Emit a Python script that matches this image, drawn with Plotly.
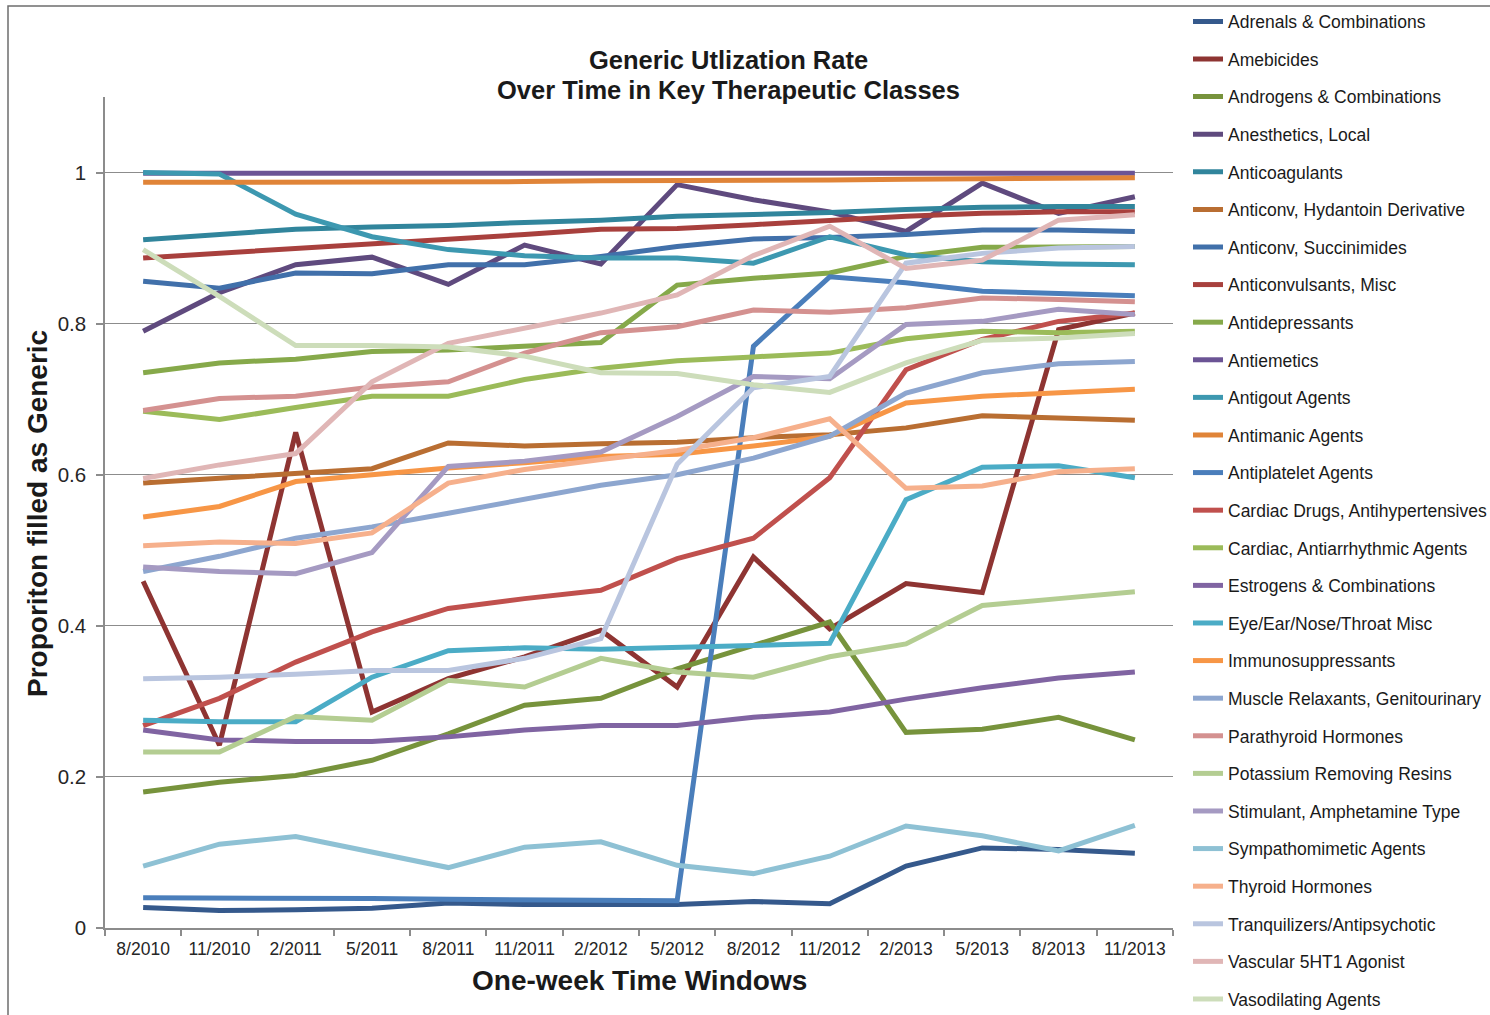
import plotly.graph_objects as go

# ---------------- data ----------------
dates = ["8/2010", "11/2010", "2/2011", "5/2011", "8/2011", "11/2011", "2/2012",
         "5/2012", "8/2012", "11/2012", "2/2013", "5/2013", "8/2013", "11/2013"]

adrenals = [0.027, 0.023, 0.024, 0.026, 0.033, 0.031, 0.031, 0.031, 0.035, 0.032, 0.082, 0.106, 0.104, 0.099]
amebicides = [0.459, 0.242, 0.656, 0.286, 0.330, 0.359, 0.394, 0.319, 0.491, 0.396, 0.456, 0.444, 0.792, 0.814]
androgens = [0.180, 0.193, 0.202, 0.222, 0.257, 0.295, 0.304, 0.343, 0.374, 0.405, 0.259, 0.263, 0.279, 0.249]
anesthetics = [0.790, 0.841, 0.878, 0.888, 0.852, 0.904, 0.879, 0.984, 0.964, 0.948, 0.922, 0.986, 0.946, 0.968]
anticoagulants = [0.911, 0.918, 0.925, 0.928, 0.930, 0.934, 0.937, 0.942, 0.944, 0.947, 0.951, 0.954, 0.955, 0.955]
hydantoin = [0.589, 0.595, 0.602, 0.608, 0.642, 0.638, 0.641, 0.643, 0.649, 0.653, 0.662, 0.678, 0.675, 0.672]
succinimides = [0.856, 0.847, 0.867, 0.866, 0.878, 0.878, 0.889, 0.902, 0.912, 0.914, 0.918, 0.924, 0.924, 0.922]
anticonv_misc = [0.887, 0.893, 0.899, 0.905, 0.912, 0.918, 0.925, 0.926, 0.931, 0.937, 0.942, 0.946, 0.948, 0.948]
antidepressants = [0.735, 0.748, 0.753, 0.763, 0.765, 0.770, 0.775, 0.851, 0.860, 0.867, 0.889, 0.901, 0.902, 0.902]
antiemetics = [0.999, 0.999, 0.999, 0.999, 0.999, 0.999, 0.999, 0.999, 0.999, 0.999, 0.999, 0.999, 0.999, 0.999]
antigout = [1.000, 0.998, 0.945, 0.915, 0.898, 0.890, 0.887, 0.887, 0.880, 0.915, 0.891, 0.882, 0.879, 0.878]
antimanic = [0.987, 0.987, 0.988, 0.988, 0.988, 0.988, 0.989, 0.989, 0.990, 0.990, 0.991, 0.992, 0.993, 0.993]
antiplatelet = [0.040, 0.040, 0.039, 0.039, 0.038, 0.037, 0.036, 0.036, 0.770, 0.862, 0.854, 0.843, 0.840, 0.837]
cardiac_drugs = [0.268, 0.304, 0.352, 0.392, 0.423, 0.436, 0.447, 0.489, 0.516, 0.596, 0.739, 0.779, 0.803, 0.814]
antiarrhythmic = [0.684, 0.673, 0.689, 0.704, 0.704, 0.726, 0.741, 0.751, 0.756, 0.761, 0.780, 0.790, 0.788, 0.790]
estrogens = [0.262, 0.249, 0.247, 0.247, 0.253, 0.262, 0.268, 0.268, 0.279, 0.286, 0.303, 0.318, 0.331, 0.339]
eye_ear = [0.275, 0.273, 0.273, 0.332, 0.367, 0.371, 0.369, 0.371, 0.374, 0.377, 0.567, 0.610, 0.612, 0.596]
immuno = [0.544, 0.558, 0.591, 0.600, 0.609, 0.616, 0.624, 0.627, 0.638, 0.651, 0.695, 0.704, 0.709, 0.713]
muscle = [0.472, 0.492, 0.516, 0.531, 0.549, 0.567, 0.586, 0.600, 0.622, 0.651, 0.708, 0.735, 0.747, 0.750]
parathyroid = [0.685, 0.701, 0.704, 0.716, 0.723, 0.761, 0.788, 0.796, 0.818, 0.815, 0.821, 0.834, 0.832, 0.829]
potassium = [0.233, 0.233, 0.280, 0.275, 0.328, 0.319, 0.357, 0.339, 0.332, 0.359, 0.376, 0.427, 0.436, 0.445]
stimulant = [0.478, 0.472, 0.469, 0.497, 0.611, 0.618, 0.630, 0.677, 0.730, 0.727, 0.799, 0.803, 0.819, 0.812]
sympathomimetic = [0.082, 0.111, 0.121, 0.100, 0.080, 0.107, 0.114, 0.083, 0.072, 0.095, 0.135, 0.122, 0.102, 0.136]
thyroid = [0.506, 0.511, 0.509, 0.523, 0.589, 0.607, 0.620, 0.632, 0.649, 0.674, 0.582, 0.585, 0.604, 0.608]
tranquilizers = [0.330, 0.332, 0.336, 0.341, 0.341, 0.357, 0.383, 0.614, 0.715, 0.730, 0.880, 0.893, 0.900, 0.902]
vascular = [0.595, 0.613, 0.628, 0.723, 0.774, 0.794, 0.814, 0.838, 0.890, 0.929, 0.873, 0.884, 0.937, 0.944]
vasodilating = [0.898, 0.836, 0.771, 0.771, 0.769, 0.757, 0.735, 0.734, 0.719, 0.709, 0.748, 0.778, 0.781, 0.787]

series_names = [
    "Adrenals & Combinations", "Amebicides", "Androgens & Combinations", "Anesthetics, Local",
    "Anticoagulants", "Anticonv, Hydantoin Derivative", "Anticonv, Succinimides",
    "Anticonvulsants, Misc", "Antidepressants", "Antiemetics", "Antigout Agents",
    "Antimanic Agents", "Antiplatelet Agents", "Cardiac Drugs, Antihypertensives",
    "Cardiac, Antiarrhythmic Agents", "Estrogens & Combinations", "Eye/Ear/Nose/Throat Misc",
    "Immunosuppressants", "Muscle Relaxants, Genitourinary", "Parathyroid Hormones",
    "Potassium Removing Resins", "Stimulant, Amphetamine Type", "Sympathomimetic Agents",
    "Thyroid Hormones", "Tranquilizers/Antipsychotic", "Vascular 5HT1 Agonist",
    "Vasodilating Agents",
]
series_values = [
    adrenals, amebicides, androgens, anesthetics, anticoagulants, hydantoin, succinimides,
    anticonv_misc, antidepressants, antiemetics, antigout, antimanic, antiplatelet,
    cardiac_drugs, antiarrhythmic, estrogens, eye_ear, immuno, muscle, parathyroid,
    potassium, stimulant, sympathomimetic, thyroid, tranquilizers, vascular, vasodilating,
]
y_ticks = [0, 0.2, 0.4, 0.6, 0.8, 1]
y_tick_labels = ["0", "0.2", "0.4", "0.6", "0.8", "1"]
title_lines = ["Generic Utlization Rate", "Over Time in Key Therapeutic Classes"]
x_title = "One-week Time Windows"
y_title = "Proporiton filled as Generic"

# ---------------- style ----------------
colors = [
    "#35598C", "#8E3432", "#77933C", "#5F4A7E", "#31859C", "#B96E32", "#4170AA",
    "#A8403D", "#86A94A", "#6B5495", "#3D98B0", "#E08438", "#4A7EBB", "#C0504D",
    "#9BBB59", "#8064A2", "#4BACC6", "#F79646", "#8DA6CF", "#D49190", "#B4CD92",
    "#A59AC2", "#8EC1D4", "#F6B08C", "#B9C5DF", "#E0B6B6", "#CDDDBA",
]
FONT = "Liberation Sans, Arial, sans-serif"
GRID = "#8C8C8C"
TXT = "#1A1A1A"

W, H = 1490, 1015
L, R, T, B = 105, 317, 97, 87
pw, ph = W - L - R, H - T - B


def px_x(p):
    return (p - L) / pw


def px_y(p):
    return (H - B - p) / ph


fig = go.Figure()
for i, (name, vals) in enumerate(zip(series_names, series_values)):
    fig.add_trace(go.Scatter(
        x=dates, y=vals, name=name, mode="lines",
        line=dict(color=colors[i], width=5),
        legendgroup="g%d" % i,
    ))

annotations = [
    dict(text="<b>%s</b>" % title_lines[0], xref="paper", yref="paper",
         x=px_x(728), y=px_y(60), xanchor="center", yanchor="middle", showarrow=False,
         font=dict(family=FONT, size=25.5, color=TXT)),
    dict(text="<b>%s</b>" % title_lines[1], xref="paper", yref="paper",
         x=px_x(728), y=px_y(90), xanchor="center", yanchor="middle", showarrow=False,
         font=dict(family=FONT, size=25.5, color=TXT)),
    dict(text="<b>%s</b>" % x_title, xref="paper", yref="paper",
         x=px_x(639), y=px_y(980), xanchor="center", yanchor="middle", showarrow=False,
         font=dict(family=FONT, size=28, color=TXT)),
    dict(text="<b>%s</b>" % y_title, xref="paper", yref="paper",
         x=px_x(37), y=px_y(514), textangle=-90,
         xanchor="center", yanchor="middle", showarrow=False,
         font=dict(family=FONT, size=28, color=TXT)),
]

fig.update_layout(
    width=W, height=H, autosize=False,
    margin=dict(l=L, r=R, t=T, b=B, pad=0, autoexpand=False),
    paper_bgcolor="white", plot_bgcolor="white",
    font=dict(family=FONT, color="#262626"),
    showlegend=True,
    legend=dict(
        x=px_x(1188), y=px_y(3.5), xanchor="left", yanchor="top",
        font=dict(family=FONT, size=17.5, color=TXT),
        tracegroupgap=11.85, bgcolor="rgba(0,0,0,0)", borderwidth=0,
        itemwidth=30, maxheight=1200,
    ),
    xaxis=dict(
        type="category", categoryorder="array", categoryarray=dates,
        range=[-0.5, len(dates) - 0.5],
        showgrid=False, zeroline=False,
        showline=True, linecolor=GRID, linewidth=1.5,
        ticks="outside", ticklen=6, tickcolor=GRID, tickwidth=1.5,
        tickson="boundaries",
        tickfont=dict(family=FONT, size=17.5, color="#262626"),
        ticklabelstandoff=4,
    ),
    yaxis=dict(
        range=[0, 1.1], tickvals=y_ticks, ticktext=y_tick_labels,
        showgrid=True, gridcolor=GRID, gridwidth=1,
        zeroline=False,
        showline=True, linecolor=GRID, linewidth=1.5,
        ticks="outside", ticklen=7, tickcolor=GRID, tickwidth=1.5,
        tickfont=dict(family=FONT, size=20.5, color="#262626"),
        ticklabelstandoff=6,
    ),
    annotations=annotations,
    shapes=[
        dict(type="rect", xref="paper", yref="paper",
             x0=px_x(8), x1=px_x(1530), y0=px_y(1060), y1=px_y(6),
             line=dict(color="#6E6E6E", width=1.5), fillcolor="rgba(0,0,0,0)",
             layer="below"),
    ],
)

fig.write_html(
    "out.html",
    config={"displayModeBar": False},
    post_script="document.body.style.margin='0';document.body.style.overflow='hidden';",
)
